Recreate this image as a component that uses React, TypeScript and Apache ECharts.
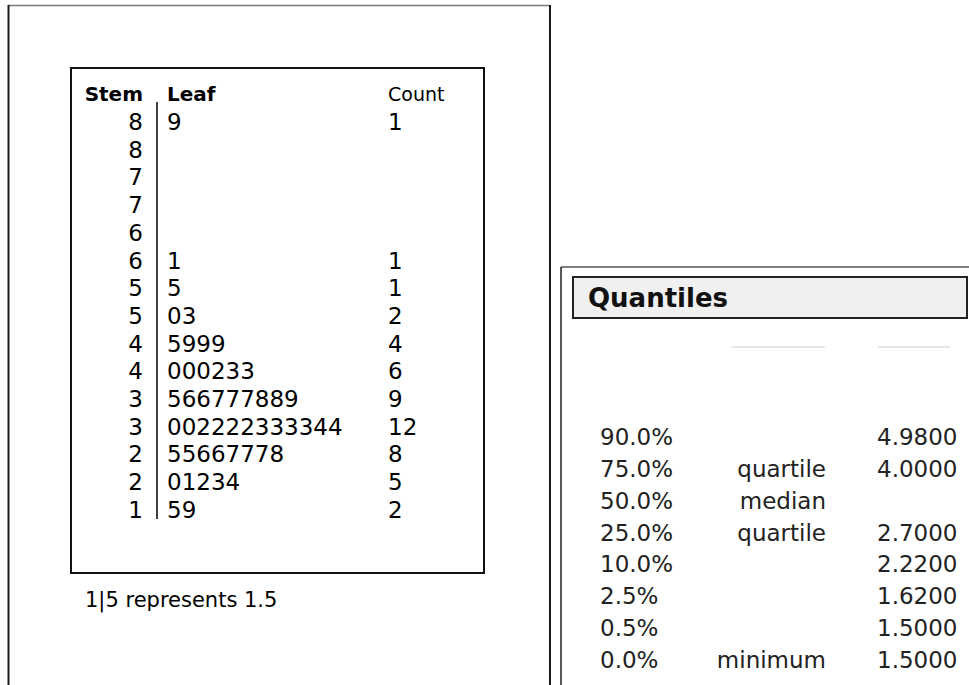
import React, { useEffect, useRef } from "react";
import * as echarts from "echarts";

// ---- Stem and leaf data ----
const headers = ["Stem", "Leaf", "Count"];
const stems = [8, 8, 7, 7, 6, 6, 5, 5, 4, 4, 3, 3, 2, 2, 1];
const leaves = ["9", "", "", "", "", "1", "5", "03", "5999", "000233", "566777889", "002222333344", "55667778", "01234", "59"];
const counts: (number | null)[] = [1, null, null, null, null, 1, 1, 2, 4, 6, 9, 12, 8, 5, 2];
const footnote = "1|5 represents 1.5";

// ---- Quantiles data ----
const quantileTitle = "Quantiles";
const quantileLevels = ["90.0%", "75.0%", "50.0%", "25.0%", "10.0%", "2.5%", "0.5%", "0.0%"];
const quantileNotes = ["", "quartile", "median", "quartile", "", "", "", "minimum"];
const quantileValues: (number | null)[] = [4.98, 4.0, null, 2.7, 2.22, 1.62, 1.5, 1.5];

const FONT = '"DejaVu Sans", "Noto Sans", sans-serif';

export default function App() {
  const ref = useRef<HTMLDivElement>(null);

  useEffect(() => {
    if (!ref.current) return;
    const chart = echarts.init(ref.current, null, { renderer: "svg" });

    const rowIds = ["header", ...stems.map((s, i) => `${s}-${i}`)];
    const stemRows = rowIds.map((_, i) => [0, i]);
    const qRows = quantileLevels.map((_, i) => [0, i]);

    const txt = (x: number, y: number, text: string, opts: any = {}) => ({
      type: "text",
      x,
      y,
      style: {
        text,
        fill: opts.fill || "#000",
        fontSize: opts.fontSize || 23,
        fontFamily: FONT,
        fontWeight: opts.fontWeight || "normal",
        align: opts.align || "left",
        verticalAlign: "middle",
      },
    });

    const option: any = {
      animation: false,
      backgroundColor: "#ffffff",
      grid: [
        { left: 71, top: 80.45, width: 413, height: 443.2, containLabel: false },
        { left: 561, top: 421.07, width: 408, height: 254.9, containLabel: false },
      ],
      xAxis: [
        { type: "value", gridIndex: 0, min: 0, max: 413, show: false },
        { type: "value", gridIndex: 1, min: 0, max: 408, show: false },
      ],
      yAxis: [
        { type: "category", gridIndex: 0, data: rowIds, inverse: true, show: false },
        { type: "category", gridIndex: 1, data: quantileLevels, inverse: true, show: false },
      ],
      graphic: [
        // outer left panel frame
        { type: "line", shape: { x1: 8, y1: 5.5, x2: 550, y2: 5.5 }, style: { stroke: "#7a7a7a", lineWidth: 1.5 } },
        { type: "line", shape: { x1: 8.5, y1: 5, x2: 8.5, y2: 690 }, style: { stroke: "#1a1a1a", lineWidth: 2 } },
        { type: "line", shape: { x1: 550, y1: 5, x2: 550, y2: 690 }, style: { stroke: "#1a1a1a", lineWidth: 2 } },
        // inner stem-leaf box
        { type: "rect", shape: { x: 71, y: 68, width: 413, height: 505 }, style: { fill: "none", stroke: "#111", lineWidth: 2 } },
        // divider line
        { type: "line", shape: { x1: 157, y1: 102, x2: 157, y2: 519 }, style: { stroke: "#000", lineWidth: 1.5 } },
        // footnote
        {
          type: "text",
          x: 85,
          y: 600,
          style: { text: footnote, fill: "#000", fontSize: 21, fontFamily: FONT, verticalAlign: "middle" },
        },
        // quantile panel frame
        { type: "line", shape: { x1: 561, y1: 267, x2: 975, y2: 267 }, style: { stroke: "#555", lineWidth: 1.5 } },
        { type: "line", shape: { x1: 561, y1: 267, x2: 561, y2: 690 }, style: { stroke: "#222", lineWidth: 1.5 } },
        // quantile title box
        { type: "rect", shape: { x: 573, y: 277, width: 394, height: 41 }, style: { fill: "#f0f0f0", stroke: "#222", lineWidth: 2 } },
        {
          type: "text",
          x: 588,
          y: 298,
          style: { text: quantileTitle, fill: "#111", fontSize: 26, fontWeight: "bold", fontFamily: FONT, verticalAlign: "middle" },
        },
        // faint hidden-row remnants
        { type: "rect", shape: { x: 731, y: 346, width: 94, height: 2 }, style: { fill: "#e6e6e6" } },
        { type: "rect", shape: { x: 878, y: 346, width: 72, height: 2 }, style: { fill: "#e6e6e6" } },
      ],
      series: [
        {
          type: "custom",
          xAxisIndex: 0,
          yAxisIndex: 0,
          data: stemRows,
          renderItem: (params: any, api: any) => {
            const i = params.dataIndex;
            const y = api.coord([0, i])[1];
            const xStem = api.coord([72, i])[0];
            const xLeaf = api.coord([96, i])[0];
            const xCount = api.coord([317, i])[0];
            if (i === 0) {
              return {
                type: "group",
                children: [
                  txt(xStem, y, headers[0], { fontSize: 20, fontWeight: "bold", align: "right" }),
                  txt(xLeaf, y, headers[1], { fontSize: 20, fontWeight: "bold" }),
                  txt(xCount, y, headers[2], { fontSize: 19 }),
                ],
              };
            }
            const r = i - 1;
            const c = counts[r];
            return {
              type: "group",
              children: [
                txt(xStem, y, String(stems[r]), { align: "right" }),
                txt(xLeaf, y, leaves[r]),
                txt(xCount, y, c == null ? "" : String(c)),
              ],
            };
          },
        },
        {
          type: "custom",
          xAxisIndex: 1,
          yAxisIndex: 1,
          data: qRows,
          renderItem: (params: any, api: any) => {
            const i = params.dataIndex;
            const y = api.coord([0, i])[1];
            const xLevel = api.coord([39, i])[0];
            const xNote = api.coord([265, i])[0];
            const xVal = api.coord([316, i])[0];
            const v = quantileValues[i];
            return {
              type: "group",
              children: [
                txt(xLevel, y, quantileLevels[i], { fill: "#222" }),
                txt(xNote, y, quantileNotes[i], { fill: "#222", align: "right" }),
                txt(xVal, y, v == null ? "" : v.toFixed(4), { fill: "#222" }),
              ],
            };
          },
        },
      ],
    };

    chart.setOption(option);
    return () => chart.dispose();
  }, []);

  return (
    <div
      ref={ref}
      style={{ position: "fixed", left: 0, top: 0, width: "969px", height: "685px", background: "#fff" }}
    />
  );
}
